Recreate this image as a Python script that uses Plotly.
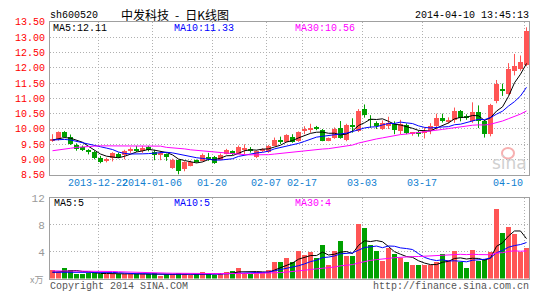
import plotly.graph_objects as go
import pandas as pd

# ---------------- data ----------------
opens = [9.63, 9.67, 9.90, 9.75, 9.48, 9.43, 9.32, 9.27, 9.06, 8.98,
         9.06, 9.20, 9.16, 9.32, 9.33, 9.28, 9.41, 9.27, 9.16, 9.18,
         8.73, 8.98, 8.70, 8.80, 8.99, 8.96, 9.07, 9.09, 9.00, 9.19,
         9.28, 9.20, 9.33, 9.34, 9.08, 9.28, 9.27, 9.46, 9.63, 9.59,
         9.75, 9.62, 9.97, 9.99, 10.07, 9.98, 9.61, 9.72, 10.05, 9.64,
         10.12, 9.93, 10.66, 10.31, 10.21, 10.00, 10.12, 10.18, 9.93, 10.14,
         9.85, 9.92, 9.88, 9.93, 10.09, 10.35, 10.22, 10.30, 10.59, 10.39,
         10.28, 10.55, 10.26, 9.84, 10.92, 11.27, 11.15, 11.90, 11.95, 12.10]
highs = [9.83, 9.92, 9.93, 9.82, 9.53, 9.46, 9.34, 9.29, 9.12, 9.06,
         9.24, 9.23, 9.32, 9.40, 9.45, 9.45, 9.45, 9.32, 9.27, 9.20,
         9.03, 9.00, 8.95, 8.97, 9.00, 9.20, 9.22, 9.12, 9.20, 9.35,
         9.30, 9.46, 9.50, 9.41, 9.30, 9.37, 9.48, 9.72, 9.75, 9.83,
         9.83, 9.92, 10.09, 10.17, 10.10, 10.00, 9.72, 10.05, 10.26, 10.17,
         10.35, 10.65, 10.80, 10.45, 10.25, 10.28, 10.40, 10.25, 10.30, 10.18,
         9.90, 9.95, 10.05, 10.19, 10.50, 10.50, 10.38, 10.70, 10.62, 10.48,
         10.87, 10.77, 10.30, 10.82, 11.60, 11.48, 12.15, 12.45, 12.40, 13.32]
lows = [9.58, 9.62, 9.72, 9.48, 9.29, 9.28, 9.17, 9.01, 8.88, 8.91,
        8.94, 9.05, 9.01, 9.22, 9.25, 9.22, 9.27, 8.98, 8.98, 8.96,
        8.70, 8.52, 8.62, 8.78, 8.90, 8.94, 8.96, 8.86, 8.98, 9.17,
        9.15, 9.18, 9.17, 9.23, 9.05, 9.25, 9.22, 9.44, 9.51, 9.56,
        9.55, 9.58, 9.83, 9.88, 9.96, 9.60, 9.60, 9.68, 9.68, 9.60,
        9.88, 9.90, 10.37, 10.04, 10.00, 9.97, 10.00, 9.83, 9.83, 9.83,
        9.78, 9.75, 9.69, 9.83, 9.98, 10.21, 10.18, 10.20, 10.25, 10.30,
        10.20, 10.03, 9.72, 9.76, 10.84, 11.08, 11.12, 11.75, 11.90, 12.05]
closes = [9.68, 9.90, 9.75, 9.51, 9.35, 9.32, 9.24, 9.06, 8.94, 9.00,
          9.22, 9.08, 9.30, 9.33, 9.31, 9.40, 9.33, 9.17, 9.17, 9.09,
          9.01, 8.65, 8.93, 8.94, 8.93, 9.17, 9.05, 8.91, 9.17, 9.33,
          9.20, 9.41, 9.34, 9.32, 9.28, 9.36, 9.45, 9.65, 9.61, 9.80,
          9.59, 9.90, 9.99, 10.00, 9.99, 9.62, 9.70, 10.00, 9.72, 10.14,
          10.10, 10.61, 10.45, 10.30, 10.09, 10.21, 10.20, 9.98, 10.17, 9.88,
          9.88, 9.86, 9.95, 10.11, 10.35, 10.28, 10.30, 10.61, 10.35, 10.38,
          10.56, 10.26, 9.84, 10.80, 11.46, 11.25, 11.98, 12.05, 12.20, 13.21]
volumes = [1.29, 1.05, 1.57, 1.33, 0.76, 0.62, 0.90, 0.81, 0.71, 0.74,
           0.71, 0.67, 0.71, 0.74, 0.62, 0.66, 0.62, 0.86, 0.43, 0.62,
           0.64, 0.81, 0.62, 0.60, 0.62, 1.00, 0.62, 0.60, 0.64, 1.00,
           1.19, 1.57, 0.81, 0.62, 1.00, 1.00, 1.29, 2.43, 2.43, 3.00,
           2.43, 4.14, 3.57, 4.00, 3.00, 5.00, 2.00, 4.14, 5.57, 3.43,
           3.43, 8.14, 7.57, 5.00, 4.14, 2.57, 4.57, 3.71, 3.14, 2.43,
           2.00, 2.00, 2.00, 2.00, 2.43, 3.71, 2.71, 4.14, 2.43, 1.57,
           4.29, 2.57, 2.86, 4.00, 10.29, 6.86, 7.71, 6.57, 4.00, 4.57]

# moving-average values before enough history is visible
ma5_head = [9.64, 9.68, 9.72, 9.70]
ma10_head = [9.64, 9.65, 9.66, 9.64, 9.60, 9.56, 9.52, 9.47, 9.42]
ma30_head = [9.29, 9.31, 9.35, 9.37, 9.40, 9.42, 9.43, 9.44, 9.45, 9.45,
             9.46, 9.46, 9.46, 9.46, 9.46, 9.46, 9.46, 9.46, 9.44, 9.40,
             9.39, 9.37, 9.35, 9.32, 9.30, 9.29, 9.27, 9.24, 9.22]
vma5_head = [0.95, 1.00, 1.05, 1.10]
vma10_head = [0.95, 0.95, 1.00, 1.00, 1.00, 1.00, 1.00, 1.00, 0.98]
vma30_head = [1.15, 1.15, 1.15, 1.15, 1.15, 1.15, 1.14, 1.12, 1.10, 1.08,
              1.06, 1.02, 0.98, 0.95, 0.92, 0.90, 0.88, 0.86, 0.84, 0.82,
              0.80, 0.78, 0.76, 0.75, 0.74, 0.74, 0.74, 0.75, 0.76]

date_labels = ["2013-12-22", "2014-01-06", "01-20", "02-07", "02-17",
               "03-03", "03-17", "04-10"]
date_index = [8, 17, 27, 36, 42, 52, 62, 79]

price_ticks = [8.5, 9.0, 9.5, 10.0, 10.5, 11.0, 11.5, 12.0, 12.5, 13.0, 13.5]
vol_ticks = [4, 8, 12]

title_code = "sh600520"
title_name = "中发科技\u2002-\u2002日K线图"
timestamp = "2014-04-10 13:45:13"
ma_texts = ["MA5:12.11", "MA10:11.33", "MA30:10.56"]
vma_texts = ["MA5:5", "MA10:5", "MA30:4"]

# ---------------- styling ----------------
W, H = 545, 300
RED = "#ff5555"
GREEN = "#00a000"
MA_COLORS = ["#000000", "#0000ff", "#ff00ff"]
FRAME = "#a0a0a0"
GRID = "#b0b0b0"
MONO = "Liberation Mono, DejaVu Sans Mono, monospace"

n = len(closes)
idx = list(range(n))


def ma(vals, k, head):
    s = pd.Series(vals, dtype=float).rolling(k).mean().tolist()
    return list(head) + s[k - 1:]


up = [c >= o for o, c in zip(opens, closes)]
colors = [RED if u else GREEN for u in up]

fig = go.Figure()

# wicks
for flag, col in ((True, RED), (False, GREEN)):
    xs, ys = [], []
    for i in idx:
        if up[i] == flag:
            xs += [i, i, None]
            ys += [lows[i], highs[i], None]
    fig.add_trace(go.Scatter(x=xs, y=ys, mode="lines", line=dict(color=col, width=1),
                             hoverinfo="skip", xaxis="x", yaxis="y"))

# bodies
body_base = [min(o, c) for o, c in zip(opens, closes)]
body_h = [max(abs(c - o), 0.03) for o, c in zip(opens, closes)]
fig.add_trace(go.Bar(x=idx, y=body_h, base=body_base, width=0.84,
                     marker=dict(color=colors, line=dict(width=0)),
                     xaxis="x", yaxis="y"))

# price MAs
for k, head, col in ((5, ma5_head, MA_COLORS[0]), (10, ma10_head, MA_COLORS[1]),
                     (30, ma30_head, MA_COLORS[2])):
    fig.add_trace(go.Scatter(x=idx, y=ma(closes, k, head), mode="lines",
                             line=dict(color=col, width=1), xaxis="x", yaxis="y"))

# volume bars
fig.add_trace(go.Bar(x=idx, y=volumes, width=0.84,
                     marker=dict(color=colors, line=dict(width=0)),
                     xaxis="x2", yaxis="y2"))
for k, head, col in ((5, vma5_head, MA_COLORS[0]), (10, vma10_head, MA_COLORS[1]),
                     (30, vma30_head, MA_COLORS[2])):
    fig.add_trace(go.Scatter(x=idx, y=ma(volumes, k, head), mode="lines",
                             line=dict(color=col, width=1), xaxis="x2", yaxis="y2"))

X0, X1 = 50, 529
CX0 = 52.5   # pixel centre of first candle
STEP = 6.0
xrange = [(X0 - CX0) / STEP, (X1 - CX0) / STEP]
grid_pos = [d - 2.5 / STEP for d in date_index]

axis_common = dict(showline=True, mirror=True, linecolor=FRAME, linewidth=1,
                   zeroline=False, fixedrange=True)

fig.update_layout(
    width=W, height=H, margin=dict(l=0, r=0, t=0, b=0),
    paper_bgcolor="white", plot_bgcolor="white", showlegend=False,
    barmode="overlay", bargap=0,
    xaxis=dict(domain=[X0 / W, X1 / W], range=xrange, tickvals=grid_pos,
               showticklabels=False, ticks="", showgrid=True, gridcolor=GRID,
               griddash="1px,2px", gridwidth=1, anchor="y", **axis_common),
    yaxis=dict(domain=[1 - 177 / H, 1 - 17.5 / H], range=[8.5, 13.5],
               tickvals=price_ticks, ticktext=["%.2f" % v for v in price_ticks],
               tickfont=dict(family=MONO, size=10, color="#ff0000"),
               ticks="", ticklabelstandoff=2, showgrid=True, gridcolor=GRID,
               griddash="1px,2px", anchor="x", **axis_common),
    xaxis2=dict(domain=[X0 / W, X1 / W], range=xrange, tickvals=grid_pos,
                showticklabels=False, ticks="", showgrid=True, gridcolor=GRID,
                griddash="1px,2px", anchor="y2", **axis_common),
    yaxis2=dict(domain=[1 - 285 / H, 1 - 201 / H], range=[0, 12],
                tickvals=vol_ticks, ticktext=[str(v) for v in vol_ticks],
                tickfont=dict(family=MONO, size=11, color="#999999"),
                ticks="", ticklabelstandoff=2, showgrid=True, gridcolor=GRID,
                griddash="1px,2px", anchor="x2", **axis_common),
)

ann = []


def txt(text, x, y, color="#000000", size=10, family=MONO, xanchor="left", **kw):
    ann.append(dict(text=text, x=x / W, y=1 - y / H, xref="paper", yref="paper",
                    xanchor=xanchor, yanchor="middle", showarrow=False,
                    font=dict(family=family, size=size, color=color), borderpad=0, **kw))


txt(title_code, 49, 11)
txt(title_name, 120, 10, size=12, family="Noto Sans CJK SC")
txt(timestamp, 530, 11, xanchor="right")
for t, xp, col in zip(ma_texts, (52, 173, 294), MA_COLORS):
    txt(t, xp, 24, color=col)
for t, xp, col in zip(vma_texts, (53, 173, 294), MA_COLORS):
    txt(t, xp, 207, color=col)
txt("Copyright 2014 SINA.COM", 49, 293, color="#555555", size=10)
txt("http://finance.sina.com.cn", 530, 293, color="#555555", size=10, xanchor="right")
txt("x万", 44, 286, color="#999999", size=9, family="Noto Sans CJK SC", xanchor="right")
txt("sina", 509, 165, color="#d0d0d0", size=17, family="DejaVu Sans",
    xanchor="center")

# date labels on the price x axis
for lab, gp, d in zip(date_labels, grid_pos, date_index):
    last = d == date_index[-1]
    ann.append(dict(text=lab, x=gp, y=1 - 186 / H, xref="x", yref="paper",
                    xanchor="right" if last else "center", yanchor="middle",
                    showarrow=False, borderpad=0,
                    font=dict(family=MONO, size=10, color="#1080d0")))

fig.update_layout(annotations=ann)

# small pink eye of the watermark logo
fig.add_shape(type="circle", xref="paper", yref="paper",
              x0=502 / W, x1=514 / W, y0=1 - 160 / H, y1=1 - 149 / H,
              line=dict(color="#f7b0b0", width=2), layer="below")

fig.write_html("out.html")
